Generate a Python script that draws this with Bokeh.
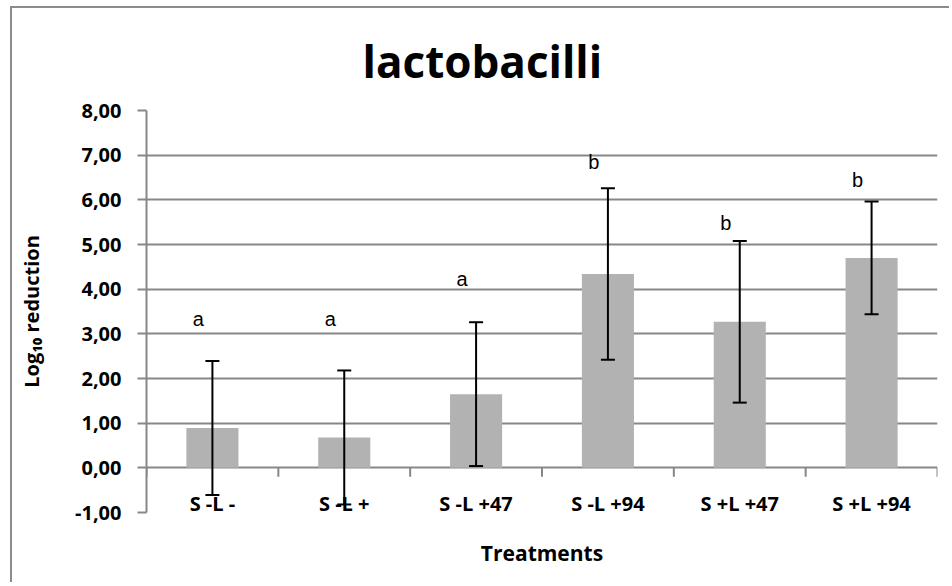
from bokeh.plotting import figure
from bokeh.models import ColumnDataSource, Whisker, TeeHead, FixedTicker
from bokeh.core.properties import value
from bokeh.embed import file_html
from bokeh.resources import INLINE

# ---- data ----
title_text = "lactobacilli"
categories = ["S -L -", "S -L +", "S -L +47", "S -L +94", "S +L +47", "S +L +94"]
means = [0.89, 0.68, 1.65, 4.34, 3.27, 4.70]
errors = [1.50, 1.50, 1.61, 1.92, 1.81, 1.26]
letters = ["a", "a", "a", "b", "b", "b"]
letter_y = [3.33, 3.33, 4.22, 6.85, 5.48, 6.44]
y_ticks = [-1, 0, 1, 2, 3, 4, 5, 6, 7, 8]

n = len(categories)
xs = [i + 0.5 for i in range(n)]
src = ColumnDataSource(dict(
    x=xs, top=means,
    upper=[m + e for m, e in zip(means, errors)],
    lower=[m - e for m, e in zip(means, errors)],
    cat=categories, letter=letters, ly=letter_y,
))

GRID = "#878787"
FONT = "Open Sans"

p = figure(
    output_backend="svg", toolbar_location=None,
    frame_width=791, frame_height=402,
    min_border_left=134, min_border_right=12,
    min_border_top=102, min_border_bottom=70,
    x_range=(0, n), y_range=(y_ticks[0], y_ticks[-1]),
    title=title_text,
)
p.styles = {"border-left": "2px solid #8c8c8c", "border-top": "2px solid #8c8c8c",
            "margin-left": "10px", "margin-top": "6px"}
p.outline_line_color = None
p.background_fill_color = "white"

p.title.align = "left"
p.title.text_font = FONT
p.title.text_font_style = "bold"
p.title.text_font_size = "44px"
p.title.text_color = "black"
p.title.standoff = 40
p.title.offset = 216

# y axis
p.yaxis.ticker = FixedTicker(ticks=y_ticks)
p.yaxis.major_label_overrides = {t: f"{t:.2f}".replace(".", ",") for t in y_ticks}
p.yaxis.major_label_text_font = FONT
p.yaxis.major_label_text_font_style = "bold"
p.yaxis.major_label_text_font_size = "20px"
p.yaxis.major_label_text_color = "black"
p.yaxis.axis_line_color = GRID
p.yaxis.axis_line_width = 2
p.yaxis.major_tick_line_color = GRID
p.yaxis.major_tick_line_width = 2
p.yaxis.major_tick_in = 0
p.yaxis.major_tick_out = 9
p.yaxis.minor_tick_line_color = None
p.yaxis.major_label_standoff = 16
p.yaxis.axis_label = "Log\u2081\u2080 reduction"
p.yaxis.axis_label_text_font = FONT
p.yaxis.axis_label_text_font_style = "bold"
p.yaxis.axis_label_text_font_size = "20px"
p.yaxis.axis_label_text_color = "black"
p.yaxis.axis_label_standoff = 27

# x axis: only the title
p.xaxis.axis_line_color = None
p.xaxis.major_tick_line_color = None
p.xaxis.minor_tick_line_color = None
p.xaxis.major_label_text_font_size = "0px"
p.xaxis.ticker = FixedTicker(ticks=[])
p.xaxis.axis_label = "Treatments"
p.xaxis.axis_label_text_font = FONT
p.xaxis.axis_label_text_font_style = "bold"
p.xaxis.axis_label_text_font_size = "21px"
p.xaxis.axis_label_text_color = "black"
p.xaxis.axis_label_standoff = 26

p.xgrid.grid_line_color = None
p.ygrid.ticker = FixedTicker(ticks=y_ticks)
p.ygrid.grid_line_color = GRID
p.ygrid.grid_line_width = 2

# bars
p.vbar(x="x", top="top", bottom=0, width=0.395, source=src,
       fill_color="#B2B2B2", line_color=None)

# category tick marks on the zero line
bounds = list(range(n + 1))
p.segment(x0=bounds, x1=bounds, y0=[0] * len(bounds), y1=[-0.2] * len(bounds),
          line_color=GRID, line_width=2)

# error bars (drawn over the bars)
wh = Whisker(base="x", upper="upper", lower="lower", source=src,
             line_color="black", line_width=2, level="annotation",
             upper_head=TeeHead(size=14, line_width=2, line_color="black"),
             lower_head=TeeHead(size=14, line_width=2, line_color="black"))
p.add_layout(wh)

# significance letters
p.text(x="x", y="ly", text="letter", source=src, x_offset=-14,
       text_align="center", text_baseline="middle",
       text_font=value("Liberation Sans"), text_font_size="20px", text_color="black")

# category labels sitting on the bottom line
p.text(x="x", y=y_ticks[0], text="cat", source=src, y_offset=4,
       text_align="center", text_baseline="bottom",
       text_font=value(FONT), text_font_style="bold", text_font_size="20px",
       text_color="black")

open("out.html", "w").write(file_html(p, INLINE))
